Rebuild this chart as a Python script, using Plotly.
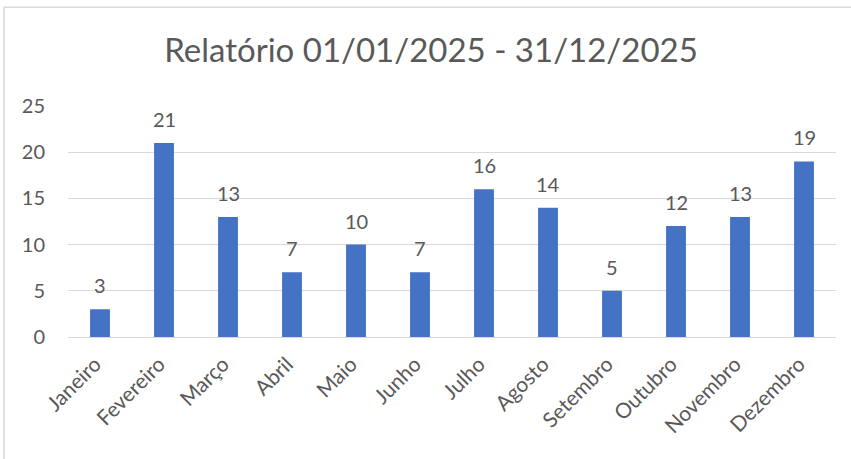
import plotly.graph_objects as go

months = ["Janeiro", "Fevereiro", "Março", "Abril", "Maio", "Junho",
          "Julho", "Agosto", "Setembro", "Outubro", "Novembro", "Dezembro"]
values = [3, 21, 13, 7, 10, 7, 16, 14, 5, 12, 13, 19]
title_text = "Relatório 01/01/2025 - 31/12/2025"
y_ticks = [0, 5, 10, 15, 20, 25]

FONT = "Lato"
GRAY = "#595959"

fig = go.Figure()
fig.add_trace(go.Bar(
    x=months, y=values,
    marker=dict(color="#4472C4", line=dict(width=0)),
    hoverinfo="x+y",
))

annotations = [
    dict(x=m, y=v, text=str(v), xref="x", yref="y", showarrow=False,
         yanchor="bottom", yshift=10,
         font=dict(family=FONT, size=20, color=GRAY))
    for m, v in zip(months, values)
]

fig.update_layout(
    width=851, height=459,
    margin=dict(l=68, r=15, t=106, b=122, pad=0, autoexpand=False),
    paper_bgcolor="white", plot_bgcolor="white",
    bargap=0.69,
    showlegend=False,
    annotations=annotations,
    title=dict(text=title_text, x=431 / 851, xanchor="center", y=1 - 50 / 459, yanchor="middle",
               xref="container", yref="container",
               font=dict(family=FONT, size=33, color=GRAY)),
    font=dict(family=FONT, color=GRAY),
    xaxis=dict(tickangle=-45, tickfont=dict(family=FONT, size=21, color=GRAY),
               showgrid=False, showline=False, ticks="", zeroline=False, automargin=False,
               ticklabelstandoff=10, ticklabelshift=-5),
    yaxis=dict(range=[0, 25], tickvals=y_ticks, tickfont=dict(family=FONT, size=20, color=GRAY),
               showgrid=True, gridcolor="#D9D9D9", gridwidth=1,
               zeroline=True, zerolinecolor="#D9D9D9", zerolinewidth=1,
               showline=False, ticks="", ticklabelstandoff=22, automargin=False),
    shapes=[
        dict(type="line", xref="paper", yref="paper",
             x0=(4 - 68) / 768, x1=(900 - 68) / 768,
             y0=1 + (106 - 7) / 231.5, y1=1 + (106 - 7) / 231.5,
             line=dict(color="#D9D9D9", width=1.5)),
        dict(type="line", xref="paper", yref="paper",
             x0=(4 - 68) / 768, x1=(4 - 68) / 768,
             y0=1 + (106 - 7) / 231.5, y1=-1,
             line=dict(color="#D9D9D9", width=1.5)),
    ],
)

fig.write_html("out.html", config={"displayModeBar": False},
               post_script="document.body.style.margin='0';document.body.style.padding='0';")
